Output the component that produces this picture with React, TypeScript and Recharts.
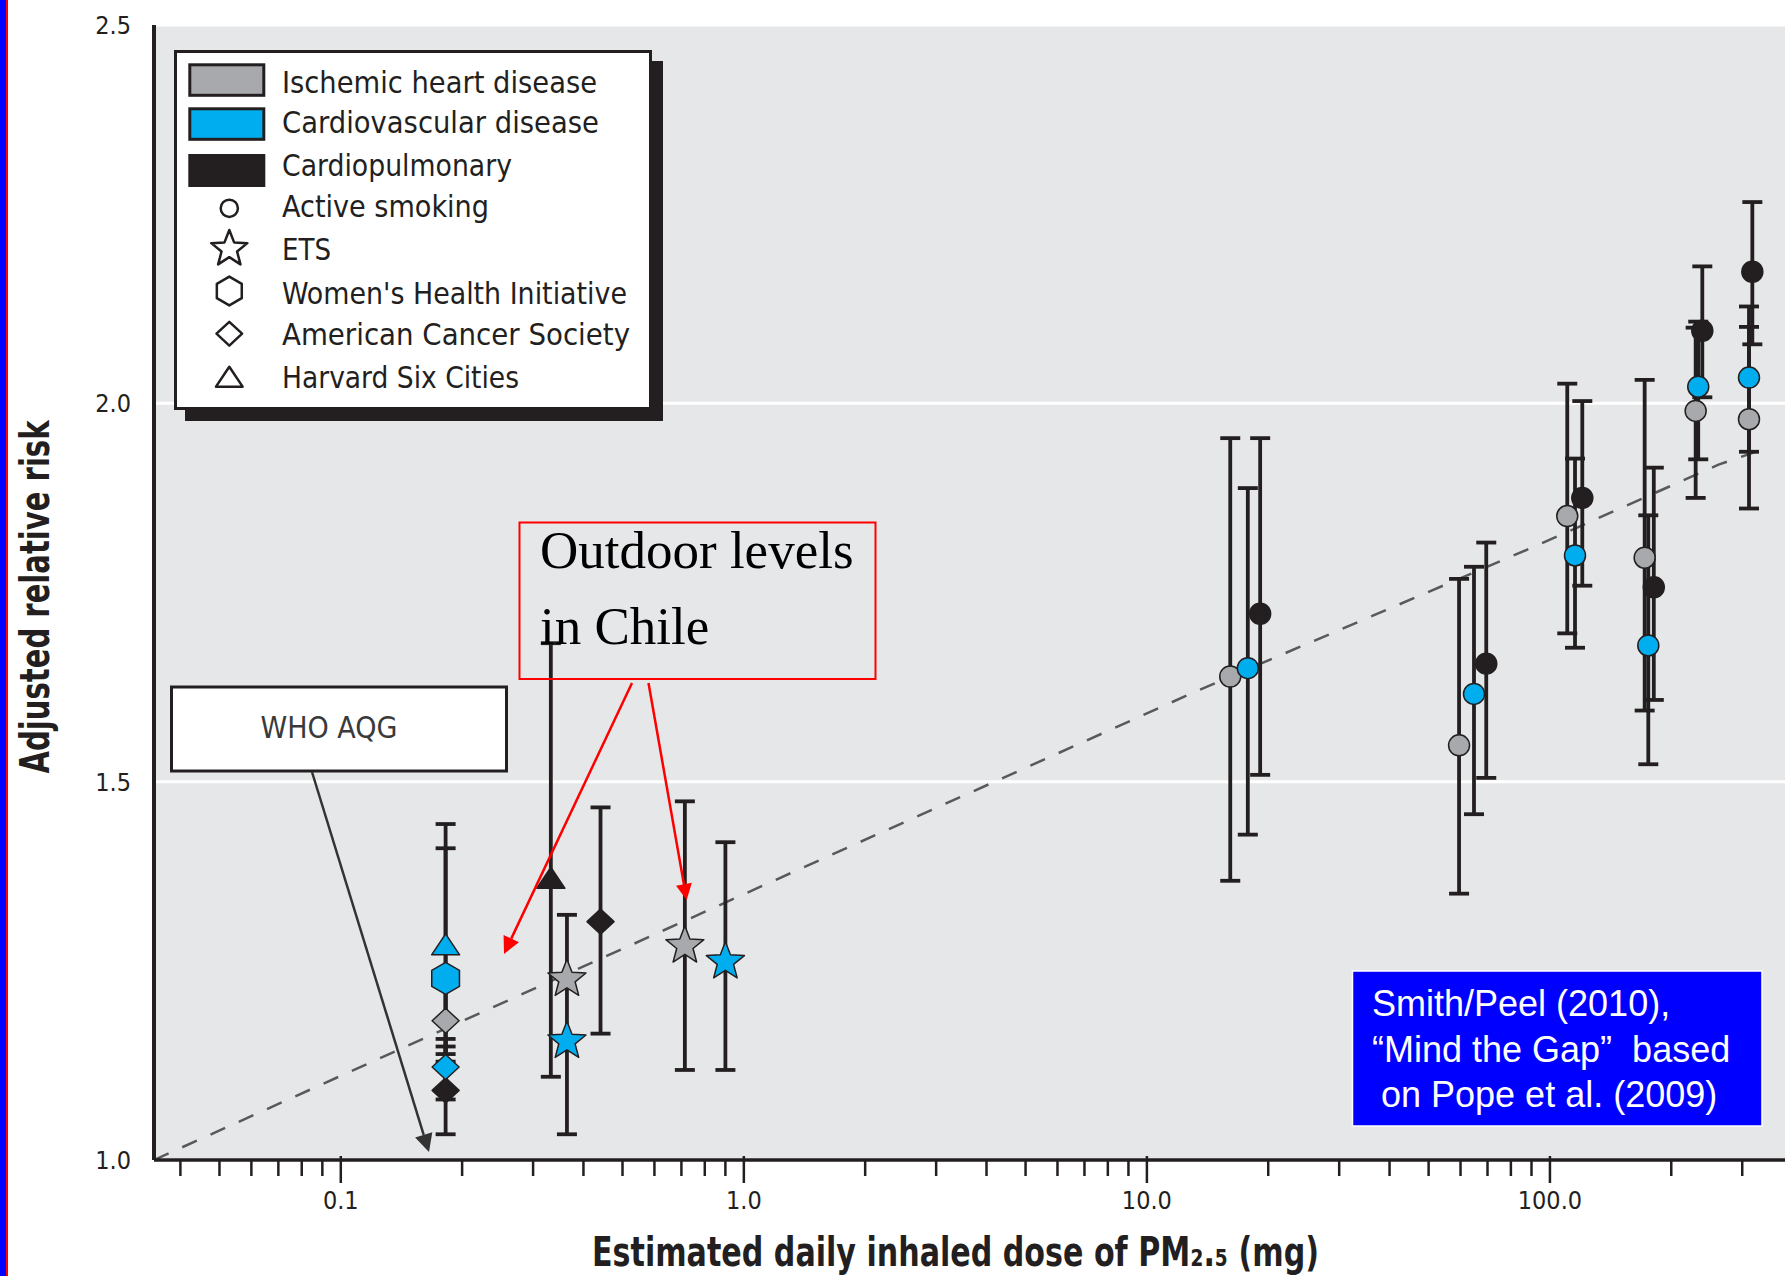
import {
  ComposedChart, Scatter, Line, XAxis, YAxis, CartesianGrid, ErrorBar,
} from 'recharts';

// ---- data (dose in mg, adjusted relative risk) ----

// Active smoking (circles)
const smkIhdDose = [16.1, 59.5, 110.4, 171.8, 229.9, 311.8];
const smkIhdRR = [1.639, 1.548, 1.851, 1.796, 1.99, 1.979];
const smkIhdLo = [1.369, 1.352, 1.696, 1.594, 1.875, 1.861];
const smkIhdHi = [1.954, 1.768, 2.026, 2.031, 2.1, 2.101];

const smkCvdDose = [17.8, 64.8, 115.4, 175.4, 233.3, 311.8];
const smkCvdRR = [1.65, 1.616, 1.799, 1.68, 2.022, 2.034];
const smkCvdLo = [1.43, 1.457, 1.677, 1.523, 1.926, 1.936];
const smkCvdHi = [1.888, 1.784, 1.927, 1.852, 2.108, 2.128];

const smkCpDose = [19.1, 69.5, 120.3, 181.0, 238.8, 317.8];
const smkCpRR = [1.722, 1.656, 1.875, 1.757, 2.096, 2.174];
const smkCpLo = [1.509, 1.505, 1.759, 1.608, 2.008, 2.078];
const smkCpHi = [1.954, 1.816, 2.003, 1.915, 2.181, 2.266];

// ETS (stars)
const etsIhdDose = [0.364, 0.714];
const etsIhdRR = [1.239, 1.283];
const etsIhdLo = [1.034, 1.119];
const etsIhdHi = [1.324, 1.474];

const etsCvdDose = [0.364, 0.9];
const etsCvdRR = [1.157, 1.262];
const etsCvdLo = [null, 1.119];
const etsCvdHi = [null, 1.42];

// Women's Health Initiative (hexagon)
const whiCvdDose = [0.182];
const whiCvdRR = [1.24];
const whiCvdLo = [1.09];
const whiCvdHi = [1.412];

// American Cancer Society (diamonds)
const acsIhdDose = [0.182];
const acsIhdRR = [1.184];
const acsIhdLo = [1.14];
const acsIhdHi = [1.23];

const acsCvdDose = [0.182];
const acsCvdRR = [1.123];
const acsCvdLo = [1.08];
const acsCvdHi = [1.15];

const acsCpDose = [0.182, 0.441];
const acsCpRR = [1.092, 1.315];
const acsCpLo = [1.034, 1.167];
const acsCpHi = [1.16, 1.466];

// Harvard Six Cities (triangles)
const hscCvdDose = [0.182];
const hscCvdRR = [1.285];
const hscCvdLo = [1.13];
const hscCvdHi = [1.444];

const hscCpDose = [0.332];
const hscCpRR = [1.373];
const hscCpLo = [1.11];
const hscCpHi = [1.683];

// dashed fitted curve
const trendDose = [0.0344, 1.22, 13.46, 91.8, 262, 341];
const trendRR = [1.0, 1.372, 1.621, 1.811, 1.919, 1.94];

const xMajorTicks = [0.1, 1, 10, 100];
const xMinorTicks = [
  0.04, 0.05, 0.06, 0.07, 0.08, 0.09,
  0.2, 0.3, 0.4, 0.5, 0.6, 0.7, 0.8, 0.9,
  2, 3, 4, 5, 6, 7, 8, 9,
  20, 30, 40, 50, 60, 70, 80, 90,
  200, 300,
];
const yTicks = [1.0, 1.5, 2.0, 2.5];

const legendDiseases = ['Ischemic heart disease', 'Cardiovascular disease', 'Cardiopulmonary'];
const legendStudies = ['Active smoking', 'ETS', "Women's Health Initiative", 'American Cancer Society', 'Harvard Six Cities'];

const GREY = '#a7a9ac';
const BLUE = '#00aeef';
const BLACK = '#231f20';
const COND = '"DejaVu Sans Condensed", "DejaVu Sans", sans-serif';

type Row = { x: number; y: number; err: number[] | null };

function rows(dose: number[], rr: number[], lo: (number | null)[], hi: (number | null)[]): Row[] {
  return dose.map((x, i) => ({
    x,
    y: rr[i],
    err: lo[i] == null || hi[i] == null ? null : [rr[i] - (lo[i] as number), (hi[i] as number) - rr[i]],
  }));
}

const series = [
  { key: 'smkIhd', kind: 'circle', color: GREY, rows: rows(smkIhdDose, smkIhdRR, smkIhdLo, smkIhdHi) },
  { key: 'smkCvd', kind: 'circle', color: BLUE, rows: rows(smkCvdDose, smkCvdRR, smkCvdLo, smkCvdHi) },
  { key: 'smkCp', kind: 'circle', color: BLACK, rows: rows(smkCpDose, smkCpRR, smkCpLo, smkCpHi) },
  { key: 'etsIhd', kind: 'star', color: GREY, rows: rows(etsIhdDose, etsIhdRR, etsIhdLo, etsIhdHi) },
  { key: 'etsCvd', kind: 'star', color: BLUE, rows: rows(etsCvdDose, etsCvdRR, etsCvdLo, etsCvdHi) },
  { key: 'hscCp', kind: 'tri', color: BLACK, rows: rows(hscCpDose, hscCpRR, hscCpLo, hscCpHi) },
  { key: 'acsCp', kind: 'diamond', color: BLACK, rows: rows(acsCpDose, acsCpRR, acsCpLo, acsCpHi) },
  { key: 'acsCvd', kind: 'diamond', color: BLUE, rows: rows(acsCvdDose, acsCvdRR, acsCvdLo, acsCvdHi) },
  { key: 'acsIhd', kind: 'diamond', color: GREY, rows: rows(acsIhdDose, acsIhdRR, acsIhdLo, acsIhdHi) },
  { key: 'whiCvd', kind: 'hex', color: BLUE, rows: rows(whiCvdDose, whiCvdRR, whiCvdLo, whiCvdHi) },
  { key: 'hscCvd', kind: 'tri', color: BLUE, rows: rows(hscCvdDose, hscCvdRR, hscCvdLo, hscCvdHi) },
];

const trend = trendDose.map((x, i) => ({ x, y: trendRR[i] }));

function starPts(cx: number, cy: number, R: number, r: number) {
  const pts: string[] = [];
  for (let i = 0; i < 10; i++) {
    const a = -Math.PI / 2 + (i * Math.PI) / 5;
    const rad = i % 2 === 0 ? R : r;
    pts.push(`${cx + rad * Math.cos(a)},${cy + rad * Math.sin(a)}`);
  }
  return pts.join(' ');
}

function hexPts(cx: number, cy: number, r: number) {
  const pts: string[] = [];
  for (let i = 0; i < 6; i++) {
    const a = -Math.PI / 2 + (i * Math.PI) / 3;
    pts.push(`${cx + r * Math.cos(a)},${cy + r * Math.sin(a)}`);
  }
  return pts.join(' ');
}

function Shape({ cx, cy, kind, fill, stroke = BLACK, sw = 1.5, size = 1 }: any) {
  if (cx == null || cy == null) return <g />;
  const st = { fill, stroke, strokeWidth: sw, strokeLinejoin: 'round' as const };
  if (kind === 'circle') return <circle cx={cx} cy={cy} r={10.5 * size} {...st} />;
  if (kind === 'star') return <polygon points={starPts(cx, cy, 20 * size, 8.6 * size)} {...st} />;
  if (kind === 'hex') return <polygon points={hexPts(cx, cy, 16 * size)} {...st} />;
  if (kind === 'diamond') {
    const w = 13.5 * size, h = 12.5 * size;
    return <polygon points={`${cx},${cy - h} ${cx + w},${cy} ${cx},${cy + h} ${cx - w},${cy}`} {...st} />;
  }
  const w = 14 * size, h = 10.5 * size;
  return <polygon points={`${cx},${cy - h} ${cx + w},${cy + h} ${cx - w},${cy + h}`} {...st} />;
}

function XTick(props: any) {
  const { x, y, payload } = props;
  const major = xMajorTicks.includes(payload.value);
  return (
    <g>
      <line x1={x} x2={x} y1={major ? y - 4 : y} y2={major ? y + 23 : y + 16} stroke={BLACK} strokeWidth={2.5} />
      {major && (
        <text x={x} y={y + 49} textAnchor="middle" fontFamily={COND} fontSize={25} fill={BLACK} style={{ fontStretch: 'condensed' }}>
          {payload.value < 1 ? payload.value.toString() : payload.value.toFixed(1)}
        </text>
      )}
    </g>
  );
}

function YTick(props: any) {
  const { x, y, payload } = props;
  return (
    <text x={x - 23} y={y + 9} textAnchor="end" fontFamily={COND} fontSize={25} fill={BLACK} style={{ fontStretch: 'condensed' }}>
      {payload.value.toFixed(1)}
    </text>
  );
}

function Arrow({ x1, y1, x2, y2, color, w, head }: any) {
  const a = Math.atan2(y2 - y1, x2 - x1);
  const bx = x2 - head * Math.cos(a), by = y2 - head * Math.sin(a);
  const px = Math.sin(a) * head * 0.5, py = -Math.cos(a) * head * 0.5;
  return (
    <g>
      <line x1={x1} y1={y1} x2={bx} y2={by} stroke={color} strokeWidth={w} />
      <polygon points={`${x2},${y2} ${bx + px},${by + py} ${bx - px},${by - py}`} fill={color} />
    </g>
  );
}

function Overlay() {
  const legendBaselines = [92.7, 133.3, 176, 216.7, 260, 304.3, 345, 388.3];
  const legendWidths = [315, 317, 230, 207, 49, 345, 348, 237];
  const swatchTops = [64.8, 108.8, 154];
  const swatchFill = [GREY, BLUE, BLACK];
  const iconKinds = ['circle', 'star', 'hex', 'diamond', 'tri'];
  const iconY = [208.3, 249, 291, 333.7, 376.7];
  const iconSize = [0.82, 0.95, 0.9, 0.95, 0.95];
  const labelProps = (i: number) => ({
    x: 282, y: legendBaselines[i], textLength: legendWidths[i], lengthAdjust: 'spacingAndGlyphs',
    fontFamily: COND, fontSize: 31, fill: BLACK, style: { fontStretch: 'condensed' },
  });
  return (
    <svg width={1792} height={1276} style={{ position: 'absolute', left: 0, top: 0, pointerEvents: 'none' }}>
      {/* legend */}
      <rect x={185} y={61} width={478} height={360} fill={BLACK} />
      <rect x={175.5} y={51.5} width={475} height={357} fill="#fff" stroke={BLACK} strokeWidth={3} />
      {legendDiseases.map((d, i) => (
        <g key={d}>
          {i < 2 ? (
            <rect x={189.8} y={swatchTops[i]} width={74} height={30.5} fill={swatchFill[i]} stroke={BLACK} strokeWidth={3} />
          ) : (
            <rect x={188.3} y={swatchTops[i]} width={77} height={33} fill={BLACK} />
          )}
          <text {...(labelProps(i) as any)}>{d}</text>
        </g>
      ))}
      {legendStudies.map((s, i) => (
        <g key={s}>
          <Shape cx={229.3} cy={iconY[i]} kind={iconKinds[i]} fill="#fff" sw={2.5} size={iconSize[i]} />
          <text {...(labelProps(i + 3) as any)}>{s}</text>
        </g>
      ))}

      {/* WHO AQG annotation */}
      <rect x={171.5} y={687} width={335} height={84} fill="#fff" stroke={BLACK} strokeWidth={3} />
      <text x={329} y={738} textAnchor="middle" fontFamily={COND} fontSize={30} fill="#3a3a3a" style={{ fontStretch: 'condensed' }}>WHO AQG</text>
      <Arrow x1={312} y1={772} x2={429} y2={1152} color="#333" w={2.5} head={18} />

      {/* Chile annotation */}
      <rect x={519.5} y={522.5} width={356} height={156.5} fill="none" stroke="#ff0000" strokeWidth={2} />
      <text x={540} y={568} fontFamily='"Liberation Serif", "Times New Roman", serif' fontSize={53} fill="#000">Outdoor levels</text>
      <text x={540} y={644} fontFamily='"Liberation Serif", "Times New Roman", serif' fontSize={53} fill="#000">in Chile</text>
      <Arrow x1={632} y1={683} x2={504} y2={954} color="#ff0000" w={2.5} head={17} />
      <Arrow x1={648.5} y1={683} x2={686.7} y2={900} color="#ff0000" w={2.5} head={16} />

      {/* source box */}
      <rect x={1352.5} y={971} width={409.5} height={155} fill="#0000ff" stroke="#fff" strokeWidth={1.5} />
      <g fontFamily='"Liberation Sans", Arial, sans-serif' fontSize={36} fill="#fff">
        <text x={1372} y={1016}>Smith/Peel (2010),</text>
        <text x={1372} y={1062} style={{ whiteSpace: 'pre' }}>{'\u201CMind the Gap\u201D  based'}</text>
        <text x={1381} y={1107}>on Pope et al. (2009)</text>
      </g>

      {/* axis titles */}
      <g fontFamily={COND} fontWeight="bold" fill={BLACK} style={{ fontStretch: 'condensed' }}>
        <text x={592} y={1266} textLength={727} lengthAdjust="spacingAndGlyphs" fontSize={41}>
          {'Estimated daily inhaled dose of PM\u2082.\u2085 (mg)'}
        </text>
        <text x={0} y={0} transform="translate(49,597) rotate(-90)" textAnchor="middle" textLength={353} lengthAdjust="spacingAndGlyphs" fontSize={41}>
          Adjusted relative risk
        </text>
      </g>
    </svg>
  );
}

export default function App() {
  return (
    <div style={{ position: 'absolute', left: 0, top: 0, width: 1792, height: 1276, background: '#fff', overflow: 'hidden' }}>
      <div style={{ position: 'absolute', left: 0, top: 0, width: 6, height: 1276, background: '#0000ff' }} />
      <div style={{ position: 'absolute', left: 6, top: 0, width: 2, height: 1276, background: '#ff0000' }} />
      <ComposedChart width={1792} height={1276} margin={{ top: 25, right: 7, bottom: 56, left: 0 }}>
        <CartesianGrid vertical={false} fill="#e6e7e8" stroke="#ffffff" strokeWidth={3} />
        <XAxis
          type="number" dataKey="x" scale="log" domain={[0.0344, 383]} allowDataOverflow
          ticks={[...xMajorTicks, ...xMinorTicks]} interval={0} tick={<XTick />}
          tickLine={false} tickSize={0} tickMargin={0} height={60}
          axisLine={{ stroke: BLACK, strokeWidth: 3.5 }}
        />
        <YAxis
          type="number" dataKey="y" domain={[1, 2.5]} allowDataOverflow
          ticks={yTicks} interval={0} width={154} tick={<YTick />}
          tickLine={false} tickSize={0} tickMargin={0}
          axisLine={{ stroke: BLACK, strokeWidth: 4 }}
        />
        <Line
          data={trend} dataKey="y" type="linear" dot={false} activeDot={false}
          stroke="#58595b" strokeWidth={2.5} strokeDasharray="16 15" isAnimationActive={false}
        />
        {series.map((s) => (
          <Scatter key={'e-' + s.key} data={s.rows} shape={() => <g />} isAnimationActive={false}>
            <ErrorBar dataKey="err" direction="y" width={10} stroke={BLACK} strokeWidth={3.8} isAnimationActive={false} />
          </Scatter>
        ))}
        {series.map((s) => (
          <Scatter
            key={'m-' + s.key} data={s.rows} isAnimationActive={false}
            shape={(p: any) => <Shape cx={p.cx} cy={p.cy} kind={s.kind} fill={s.color} />}
          />
        ))}
      </ComposedChart>
      <Overlay />
    </div>
  );
}
